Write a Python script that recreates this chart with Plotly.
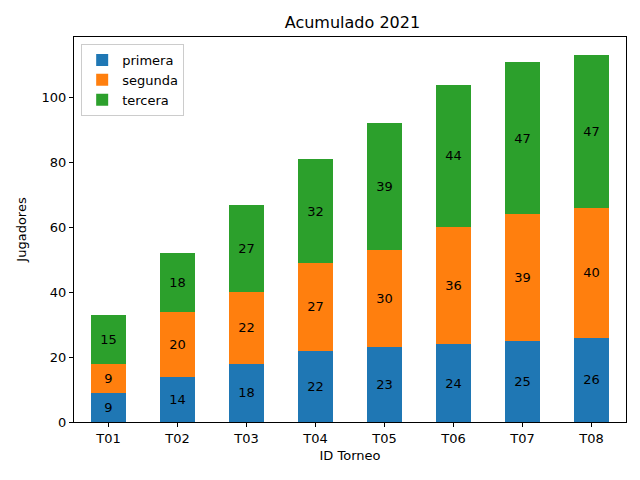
import plotly.graph_objects as go

torneos = ["T01", "T02", "T03", "T04", "T05", "T06", "T07", "T08"]
primera = [9, 14, 18, 22, 23, 24, 25, 26]
segunda = [9, 20, 22, 27, 30, 36, 39, 40]
tercera = [15, 18, 27, 32, 39, 44, 47, 47]

series = [("primera", primera, "#1f77b4"),
          ("segunda", segunda, "#ff7f0e"),
          ("tercera", tercera, "#2ca02c")]

fig = go.Figure()
for name, vals, col in series:
    fig.add_trace(go.Bar(
        x=torneos, y=vals, name=name, marker=dict(color=col, line=dict(width=0)),
        width=0.5, text=[str(v) for v in vals], textposition="inside",
        insidetextanchor="middle", textangle=0, constraintext="none",
        textfont=dict(color="black", size=13, family="DejaVu Sans"),
    ))

totals = [a + b + c for a, b, c in zip(primera, segunda, tercera)]
ymax = max(totals) * 1.05

fig.update_layout(
    barmode="stack",
    width=632, height=472,
    margin=dict(l=63, r=14, t=29, b=58),
    paper_bgcolor="white", plot_bgcolor="white",
    font=dict(family="DejaVu Sans", size=13, color="black"),
    title=dict(text="Acumulado 2021", x=0.545, xanchor="center", y=0.97, yanchor="middle",
               font=dict(size=16, color="black")),
    legend=dict(x=0.013, y=0.982, xanchor="left", yanchor="top",
                bordercolor="#cccccc", borderwidth=1, bgcolor="rgba(255,255,255,0.8)",
                font=dict(size=13), traceorder="normal", tracegroupgap=2),
    xaxis=dict(title=dict(text="ID Torneo", font=dict(size=13), standoff=6),
               range=[-0.5, 7.5], showline=True, linecolor="black", linewidth=1,
               mirror=True, ticks="outside", ticklen=4, tickcolor="black",
               showgrid=False, tickfont=dict(size=13)),
    yaxis=dict(title=dict(text="Jugadores", font=dict(size=13), standoff=12),
               range=[0, ymax], tickvals=[0, 20, 40, 60, 80, 100],
               showline=True, linecolor="black", linewidth=1,
               mirror=True, ticks="outside", ticklen=4, tickcolor="black",
               showgrid=False, zeroline=False, tickfont=dict(size=13)),
    bargap=0.5,
)

fig.write_html("out.html")
